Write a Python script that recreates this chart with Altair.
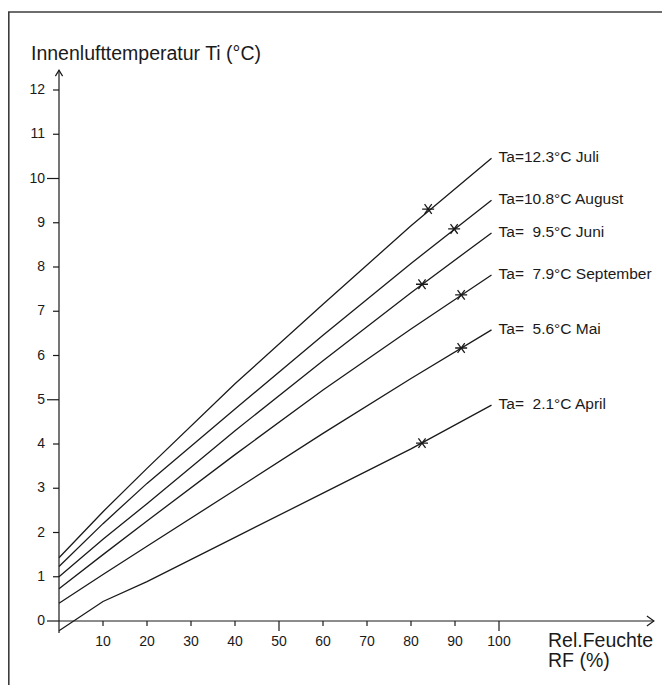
import altair as alt
import pandas as pd

# ---------------- data ----------------
rf_points = [0, 10, 20, 40, 60, 80, 98.3]
series_names = ["Juli", "August", "Juni", "September", "Mai", "April"]
ta_values = ["12.3", "10.8", "9.5", "7.9", "5.6", "2.1"]
ti_juli = [1.43, 2.47, 3.45, 5.36, 7.16, 8.93, 10.46]
ti_august = [1.23, 2.20, 3.11, 4.79, 6.46, 8.08, 9.51]
ti_juni = [1.00, 1.85, 2.65, 4.30, 5.88, 7.42, 8.77]
ti_september = [0.73, 1.50, 2.26, 3.76, 5.22, 6.60, 7.82]
ti_mai = [0.40, 1.05, 1.69, 2.96, 4.24, 5.48, 6.58]
ti_april = [-0.22, 0.44, 0.89, 1.89, 2.89, 3.89, 4.88]
star_rf = [83.9, 89.8, 82.5, 91.4, 91.4, 82.5]
star_ti = [9.31, 8.86, 7.61, 7.37, 6.17, 4.02]
x_ticks = [10, 20, 30, 40, 50, 60, 70, 80, 90, 100]
x_major = [50, 100]
y_ticks = [0, 1, 2, 3, 4, 5, 6, 7, 8, 9, 10, 11, 12]
y_major = [0, 5, 10]
y_title = "Innenlufttemperatur Ti (°C)"
x_title = ["Rel.Feuchte", "RF (%)"]

# ---------------- layout (pixel geometry of the drawing) ----------------
W, H = 654, 677
PX_X = 4.4      # pixels per % RF
PX_Y = 44.25    # pixels per °C
X0_PX, Y0_PX = 51, 613   # origin position inside the svg
XMIN = -X0_PX / PX_X
XMAX = XMIN + W / PX_X
YMAX = Y0_PX / PX_Y
YMIN = YMAX - H / PX_Y
FONT = "Liberation Sans"
INK = "#1a1a1a"

xs = alt.Scale(domain=[XMIN, XMAX], nice=False, zero=False)
ys = alt.Scale(domain=[YMIN, YMAX], nice=False, zero=False)


def X(f):
    return alt.X(f, type="quantitative", scale=xs, axis=None)


def Y(f):
    return alt.Y(f, type="quantitative", scale=ys, axis=None)


# ---------------- tables built from the lists ----------------
series_values = [ti_juli, ti_august, ti_juni, ti_september, ti_mai, ti_april]
rows = []
for name, vals in zip(series_names, series_values):
    for r, t in zip(rf_points, vals):
        rows.append({"series": name, "rf": r, "ti": t})
lines_df = pd.DataFrame(rows)

labels = []
for name, ta, vals in zip(series_names, ta_values, series_values):
    pad = "" if len(ta) >= 4 else "\u00a0\u00a0"
    labels.append({"rf": rf_points[-1], "ti": vals[-1], "label": f"Ta={pad}{ta}°C {name}"})
labels_df = pd.DataFrame(labels)

stars_df = pd.DataFrame({"rf": star_rf, "ti": star_ti, "series": series_names})

YTOP = YMAX - 4 / PX_Y
XLEFT = XMIN + 0.8 / PX_X
frame_df = pd.DataFrame({
    "x": [XMIN, XLEFT], "x2": [XMAX, XLEFT],
    "y": [YTOP, YMIN], "y2": [YTOP, YTOP],
})

Y_AXIS_BOTTOM = -0.27
Y_AXIS_TOP = 12.45
X_AXIS_END = 135.2
axes_df = pd.DataFrame({
    "x": [0, 0], "x2": [0, X_AXIS_END],
    "y": [Y_AXIS_BOTTOM, 0], "y2": [Y_AXIS_TOP, 0],
})

ytick_df = pd.DataFrame({
    "v": y_ticks,
    "x": [-(12 if v in y_major else 6) / PX_X for v in y_ticks],
    "x2": [0] * len(y_ticks),
})
xtick_df = pd.DataFrame({
    "v": x_ticks,
    "y": [-(10 if v in x_major else 5) / PX_Y for v in x_ticks],
    "y2": [0] * len(x_ticks),
})

ylab_df = pd.DataFrame({"x": [-14 / PX_X] * len(y_ticks), "y": y_ticks,
                        "label": [str(v) for v in y_ticks]})
xlab_df = pd.DataFrame({"x": x_ticks, "y": [-21 / PX_Y] * len(x_ticks),
                        "label": [str(v) for v in x_ticks]})

ytitle_df = pd.DataFrame({"x": [-28 / PX_X], "y": [YMAX - 51.5 / PX_Y], "label": [y_title]})
xtitle_df = pd.DataFrame({"x": [489 / PX_X] * 2,
                          "y": [-25.7 / PX_Y, -45.7 / PX_Y], "label": x_title})

arrow_up_df = pd.DataFrame({"x": [0], "y": [Y_AXIS_TOP]})
arrow_right_df = pd.DataFrame({"x": [X_AXIS_END], "y": [0]})

# ---------------- layers ----------------
frame = alt.Chart(frame_df).mark_rule(color="#3c3c3c", strokeWidth=1.6).encode(
    x=X("x"), x2="x2", y=Y("y"), y2="y2")

axes = alt.Chart(axes_df).mark_rule(color=INK, strokeWidth=1.2).encode(
    x=X("x"), x2="x2", y=Y("y"), y2="y2")

yticks = alt.Chart(ytick_df).mark_rule(color=INK, strokeWidth=1.2).encode(
    x=X("x"), x2="x2", y=Y("v"))
xticks = alt.Chart(xtick_df).mark_rule(color=INK, strokeWidth=1.2).encode(
    x=X("v"), y=Y("y"), y2="y2")

arrow_up = alt.Chart(arrow_up_df).mark_point(
    shape="M-0.6,1L0,0L0.6,1", size=144, filled=False, color=INK, strokeWidth=1.2, opacity=1
).encode(x=X("x"), y=Y("y"))
arrow_right = alt.Chart(arrow_right_df).mark_point(
    shape="M-1,-0.7L0,0L-1,0.7", size=196, filled=False, color=INK, strokeWidth=1.2, opacity=1
).encode(x=X("x"), y=Y("y"))

lines = alt.Chart(lines_df).mark_line(color=INK, strokeWidth=1.3).encode(
    x=X("rf"), y=Y("ti"), detail="series:N")

stars = alt.Chart(stars_df).mark_point(
    shape="M-1,0L1,0M-0.6,-0.8L0.6,0.8M-0.6,0.8L0.6,-0.8", size=144,
    filled=False, color=INK, strokeWidth=1.3, opacity=1
).encode(x=X("rf"), y=Y("ti"))

series_labels = alt.Chart(labels_df).mark_text(
    align="left", baseline="middle", dx=7, dy=-1, fontSize=15.5, font=FONT, color=INK
).encode(x=X("rf"), y=Y("ti"), text="label:N")

ylabels = alt.Chart(ylab_df).mark_text(
    align="right", baseline="middle", fontSize=14, font=FONT, color=INK
).encode(x=X("x"), y=Y("y"), text="label:N")
xlabels = alt.Chart(xlab_df).mark_text(
    align="center", baseline="middle", fontSize=14, font=FONT, color=INK
).encode(x=X("x"), y=Y("y"), text="label:N")

ytitle = alt.Chart(ytitle_df).mark_text(
    align="left", baseline="alphabetic", fontSize=19.5, font=FONT, color=INK
).encode(x=X("x"), y=Y("y"), text="label:N")
xtitle = alt.Chart(xtitle_df).mark_text(
    align="left", baseline="alphabetic", fontSize=19.5, font=FONT, color=INK
).encode(x=X("x"), y=Y("y"), text="label:N")

chart = alt.layer(
    frame, axes, yticks, xticks, arrow_up, arrow_right, lines, stars,
    series_labels, ylabels, xlabels, ytitle, xtitle
).properties(
    width=W, height=H, padding=0, autosize=alt.AutoSizeParams(type="none"),
    background="white"
).configure_view(stroke=None)

chart.save("out.html", embed_options={"renderer": "svg", "actions": False})
